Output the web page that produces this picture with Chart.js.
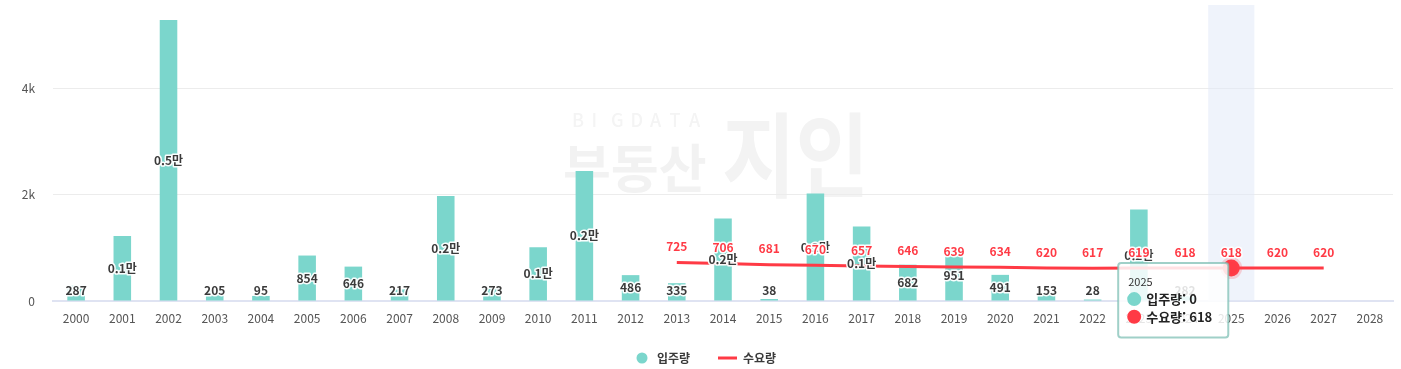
<!DOCTYPE html>
<html lang="ko">
<head>
<meta charset="utf-8">
<title>입주량 / 수요량</title>
<script src="https://cdn.jsdelivr.net/npm/chart.js"></script>
<style>
    html, body { margin: 0; padding: 0; background: #fff; }
    .wrap { position: relative; width: 1401px; height: 369px; }
</style>
</head>
<body>
<div class="wrap"><canvas id="chart"></canvas></div>
<script>
// categories
const years = ['2000', '2001', '2002', '2003', '2004', '2005', '2006', '2007', '2008', '2009',
    '2010', '2011', '2012', '2013', '2014', '2015', '2016', '2017', '2018', '2019',
    '2020', '2021', '2022', '2023', '2024', '2025', '2026', '2027', '2028'];

// 입주량 (bars)
const supply = [287, 1220, 5280, 205, 95, 854, 646, 217, 1970, 273,
    1010, 2440, 486, 335, 1550, 38, 2020, 1400, 682, 951,
    491, 153, 28, 1720, 282, 0, null, null, null];

// 수요량 (line)
const demand = [null, null, null, null, null, null, null, null, null, null,
    null, null, null, 725, 706, 681, 670, 657, 646, 639,
    634, 620, 617, 619, 618, 618, 620, 620, null];

const yTicks = [0, 2000, 4000];
const hoverIndex = 25;

const TEAL = '#7bd6cc';
const RED = '#ff3a45';
const FONT = "'Noto Sans CJK KR', 'Noto Sans', sans-serif";

Chart.defaults.font.family = FONT;

function barText(v) {
    if (v >= 1000) return (v / 10000).toFixed(1) + '만';
    return String(v);
}

function haloText(ctx, text, x, y, color) {
    ctx.lineJoin = 'round';
    ctx.lineWidth = 3;
    ctx.strokeStyle = 'rgba(255,255,255,0.95)';
    ctx.strokeText(text, x, y);
    ctx.fillStyle = color;
    ctx.fillText(text, x, y);
}

// faint logo behind the plot
const watermark = {
    id: 'watermark',
    beforeDraw(chart) {
        const ctx = chart.ctx;
        ctx.save();
        ctx.textBaseline = 'alphabetic';
        ctx.fillStyle = '#f4f4f4';
        ctx.font = `500 18px ${FONT}`;
        'BIGDATA'.split('').forEach((ch, i) => ctx.fillText(ch, 572 + i * 19.5, 127));
        ctx.fillStyle = '#f2f2f2';
        ctx.font = `bold 52px ${FONT}`;
        ctx.fillText('부동산', 563, 188);
        ctx.save();
        ctx.translate(722, 190);
        ctx.scale(1, 1.15);
        ctx.font = `bold 80px ${FONT}`;
        ctx.fillStyle = '#f3f3f3';
        ctx.fillText('지인', 0, 0);
        ctx.restore();
        ctx.restore();
    }
};

// hover band on the active category
const hoverBand = {
    id: 'hoverBand',
    beforeDatasetsDraw(chart) {
        const x = chart.scales.x;
        const area = chart.chartArea;
        const w = x.getPixelForValue(1) - x.getPixelForValue(0);
        const cx = x.getPixelForValue(hoverIndex);
        const ctx = chart.ctx;
        ctx.save();
        ctx.fillStyle = 'rgba(226,233,248,0.55)';
        ctx.fillRect(cx - w / 2, area.top, w, area.bottom - area.top);
        ctx.restore();
    }
};

// value labels for both series
const valueLabels = {
    id: 'valueLabels',
    afterDatasetsDraw(chart) {
        const ctx = chart.ctx;
        const bottom = chart.chartArea.bottom;
        ctx.save();
        ctx.textAlign = 'center';
        ctx.textBaseline = 'middle';
        ctx.font = `bold 12px ${FONT}`;
        chart.getDatasetMeta(0).data.forEach((bar, i) => {
            const v = supply[i];
            if (!v) return;
            const y = Math.min((bar.y + bar.base) / 2, bottom - 11);
            haloText(ctx, barText(v), bar.x, y, '#3b3b3b');
        });
        chart.getDatasetMeta(1).data.forEach((pt, i) => {
            const v = demand[i];
            if (v == null) return;
            haloText(ctx, String(v), pt.x, pt.y - 16, RED);
        });
        ctx.restore();
    }
};

// legend under the axis
const bottomLegend = {
    id: 'bottomLegend',
    afterDraw(chart) {
        const ctx = chart.ctx;
        const y = 358;
        ctx.save();
        ctx.fillStyle = TEAL;
        ctx.beginPath();
        ctx.arc(642, y, 5.5, 0, Math.PI * 2);
        ctx.fill();
        ctx.strokeStyle = RED;
        ctx.lineWidth = 3;
        ctx.beginPath();
        ctx.moveTo(718, y);
        ctx.lineTo(737, y);
        ctx.stroke();
        ctx.font = `bold 12px ${FONT}`;
        ctx.fillStyle = '#3a3a3a';
        ctx.textBaseline = 'middle';
        ctx.fillText('입주량', 657, y);
        ctx.fillText('수요량', 743, y);
        ctx.restore();
    }
};

const tooltipPlugin = Chart.registry.getPlugin('tooltip');
tooltipPlugin.positioners.pinned = function (items) {
    const hit = items.find(it => it.datasetIndex === 1) || items[0];
    if (!hit) return false;
    return { x: hit.element.x - 6, y: hit.element.y - 5, xAlign: 'right', yAlign: 'top' };
};

const ctx = document.getElementById('chart').getContext('2d');
const chart = new Chart(ctx, {
    type: 'bar',
    data: {
        labels: years,
        datasets: [
            {
                type: 'bar',
                label: '입주량',
                data: supply,
                backgroundColor: TEAL,
                hoverBackgroundColor: TEAL,
                barPercentage: 0.38,
                categoryPercentage: 1,
                order: 2,
            },
            {
                type: 'line',
                label: '수요량',
                data: demand,
                borderColor: RED,
                backgroundColor: RED,
                borderWidth: 3,
                pointRadius: 0,
                pointHoverRadius: 8.5,
                pointHoverBackgroundColor: RED,
                pointHoverBorderColor: 'rgba(255,70,80,0.22)',
                pointHoverBorderWidth: 5,
                tension: 0,
                spanGaps: false,
                order: 1,
            },
        ],
    },
    options: {
        responsive: true,
        maintainAspectRatio: false,
        animation: false,
        events: [],
        layout: {
            autoPadding: false,
            padding: { left: 0, right: 8, top: 5, bottom: 0 },
        },
        plugins: {
            legend: { display: false },
            tooltip: {
                enabled: true,
                animation: false,
                position: 'pinned',
                xAlign: 'right',
                yAlign: 'top',
                caretSize: 0,
                caretPadding: 0,
                cornerRadius: 3,
                backgroundColor: 'rgba(255,255,255,0.85)',
                borderColor: 'rgba(128,192,182,0.75)',
                borderWidth: 2,
                titleColor: '#333',
                titleFont: { size: 11, weight: 'normal' },
                titleMarginBottom: 3,
                bodyColor: '#222',
                bodyFont: { size: 13, weight: 'bold' },
                bodySpacing: 2,
                padding: { left: 10, right: 16, top: 12, bottom: 13 },
                boxWidth: 12,
                boxHeight: 12,
                boxPadding: 4,
                usePointStyle: true,
                callbacks: {
                    labelColor: item => {
                        const c = item.datasetIndex === 0 ? TEAL : RED;
                        return { backgroundColor: c, borderColor: c };
                    },
                    labelPointStyle: () => ({ pointStyle: 'circle', rotation: 0 }),
                },
            },
        },
        scales: {
            x: {
                grid: { display: false, drawTicks: false },
                border: { color: '#dfe3f2', width: 2 },
                ticks: {
                    color: '#555',
                    font: { size: 12 },
                    padding: 10,
                    autoSkip: false,
                    maxRotation: 0,
                },
                afterFit: scale => {
                    scale.height = 68;
                    scale.paddingLeft = 0;
                    scale.paddingRight = 0;
                },
            },
            y: {
                min: 0,
                max: 5560,
                afterBuildTicks: scale => {
                    scale.ticks = yTicks.map(v => ({ value: v }));
                },
                afterFit: scale => {
                    scale.width = 53;
                    scale.paddingTop = 0;
                    scale.paddingBottom = 0;
                },
                grid: {
                    drawTicks: false,
                    color: c => (c.tick && c.tick.value === 0 ? 'rgba(0,0,0,0)' : '#ececec'),
                },
                border: { display: false },
                ticks: {
                    color: '#555',
                    font: { size: 12 },
                    padding: 18,
                    callback: v => (v === 0 ? '0' : (v / 1000) + 'k'),
                },
            },
        },
    },
    plugins: [watermark, hoverBand, valueLabels, bottomLegend],
});

const active = [
    { datasetIndex: 0, index: hoverIndex },
    { datasetIndex: 1, index: hoverIndex },
];
chart.setActiveElements(active);
chart.update();
const hp = chart.getDatasetMeta(1).data[hoverIndex];
chart.tooltip.setActiveElements(active, { x: hp.x, y: hp.y });
chart.render();
</script>
</body>
</html>
